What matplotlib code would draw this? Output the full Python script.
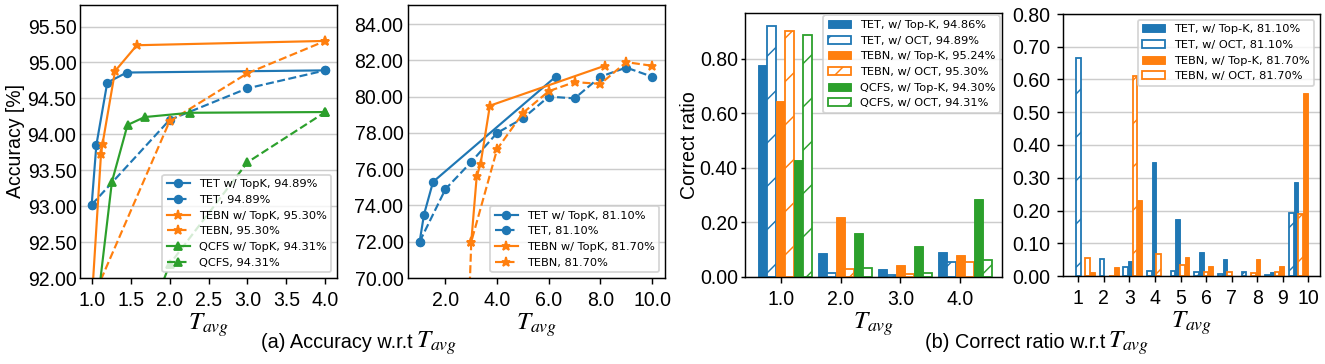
import numpy as np
import matplotlib
matplotlib.use("Agg")
import matplotlib.pyplot as plt
from matplotlib.ticker import FormatStrFormatter

# ---------------- data ----------------
# (a) left: accuracy vs T_avg
tet_topk_x1 = [1.0, 1.06, 1.20, 1.45, 4.0]
tet_topk_y1 = [93.02, 93.85, 94.72, 94.86, 94.89]
tet_x1 = [1.0, 2.0, 3.0, 4.0]
tet_y1 = [93.02, 94.20, 94.64, 94.89]
tebn_topk_x1 = [1.0, 1.12, 1.14, 1.30, 1.58, 4.0]
tebn_topk_y1 = [91.66, 93.73, 93.87, 94.88, 95.24, 95.30]
tebn_x1 = [1.0, 2.0, 3.0, 4.0]
tebn_y1 = [91.68, 94.18, 94.85, 95.30]
qcfs_topk_x1 = [1.0, 1.26, 1.46, 1.68, 2.26, 4.0]
qcfs_topk_y1 = [90.95, 93.34, 94.13, 94.24, 94.30, 94.31]
qcfs_x1 = [1.0, 2.0, 3.0, 4.0]
qcfs_y1 = [89.30, 92.19, 93.61, 94.31]

# (a) right
tet_topk_x2 = [1.0, 1.17, 1.52, 6.27]
tet_topk_y2 = [72.0, 73.5, 75.3, 81.1]
tet_x2 = [1.0, 2.0, 3.0, 4.0, 5.0, 6.0, 7.0, 8.0, 9.0, 10.0]
tet_y2 = [72.0, 74.9, 76.4, 78.0, 78.8, 80.0, 79.9, 81.1, 81.6, 81.1]
tebn_topk_x2 = [3.0, 3.21, 3.36, 3.72, 8.17]
tebn_topk_y2 = [72.0, 75.6, 76.3, 79.5, 81.7]
tebn_x2 = [2.0, 3.0, 4.0, 5.0, 6.0, 7.0, 8.0, 9.0, 10.0]
tebn_y2 = [32.0, 72.0, 77.1, 79.1, 80.3, 80.8, 80.7, 81.9, 81.7]

# (b) left: correct ratio
t3 = [1.0, 2.0, 3.0, 4.0]
tet_topk3 = [0.778, 0.089, 0.031, 0.091]
tet_oct3 = [0.922, 0.016, 0.006, 0.055]
tebn_topk3 = [0.644, 0.219, 0.045, 0.081]
tebn_oct3 = [0.902, 0.031, 0.010, 0.055]
qcfs_topk3 = [0.429, 0.162, 0.113, 0.287]
qcfs_oct3 = [0.888, 0.032, 0.015, 0.064]

# (b) right
t4 = [1, 2, 3, 4, 5, 6, 7, 8, 9, 10]
tet_topk4 = [0.0, 0.0, 0.046, 0.347, 0.175, 0.073, 0.051, 0.0, 0.013, 0.287]
tet_oct4 = [0.667, 0.053, 0.029, 0.016, 0.016, 0.013, 0.006, 0.013, 0.003, 0.192]
tebn_topk4 = [0.013, 0.026, 0.231, 0.0, 0.057, 0.032, 0.0, 0.052, 0.032, 0.558]
tebn_oct4 = [0.056, 0.0, 0.611, 0.066, 0.033, 0.013, 0.013, 0.008, 0.013, 0.190]
t4_labels = ["1", "2", "3", "4", "5", "6", "7", "8", "9", "10"]

# ---------------- style ----------------
plt.rcParams["font.family"] = ["Liberation Sans", "DejaVu Sans"]
plt.rcParams["mathtext.fontset"] = "stix"
plt.rcParams["hatch.linewidth"] = 0.8
C_BLUE, C_ORANGE, C_GREEN = "#1f77b4", "#ff7f0e", "#2ca02c"
TICK_FS = 10.8
LEG_FS = 6.3
W, H = 1325, 364
DPI = 130
fig = plt.figure(figsize=(W / DPI, H / DPI), dpi=DPI)


def px_axes(left, top, right, bottom):
    return fig.add_axes([left / W, 1 - bottom / H, (right - left) / W, (bottom - top) / H])


ax1 = px_axes(80, 5, 337, 278)
ax2 = px_axes(408, 5, 665, 278)
ax3 = px_axes(745, 13, 1002, 277)
ax4 = px_axes(1063, 14, 1320, 276)

leg_prop = {"family": "DejaVu Sans", "size": LEG_FS}


def style(ax):
    ax.set_axisbelow(True)
    ax.yaxis.grid(True, color="#cccccc", lw=0.8)
    ax.tick_params(labelsize=TICK_FS)
    ax.set_xlabel(r"$T_{avg}$", fontsize=14, labelpad=1)


lw = 1.2
ms = 4.2
# ---- panel 1
ax1.plot(tet_topk_x1, tet_topk_y1, "-o", color=C_BLUE, lw=lw, ms=ms, label="TET w/ TopK, 94.89%")
ax1.plot(tet_x1, tet_y1, "--o", color=C_BLUE, lw=lw, ms=ms, label="TET, 94.89%")
ax1.plot(tebn_topk_x1, tebn_topk_y1, "-*", color=C_ORANGE, lw=lw, ms=ms + 1, label="TEBN w/ TopK, 95.30%")
ax1.plot(tebn_x1, tebn_y1, "--*", color=C_ORANGE, lw=lw, ms=ms + 1, label="TEBN, 95.30%")
ax1.plot(qcfs_topk_x1, qcfs_topk_y1, "-^", color=C_GREEN, lw=lw, ms=ms, label="QCFS w/ TopK, 94.31%")
ax1.plot(qcfs_x1, qcfs_y1, "--^", color=C_GREEN, lw=lw, ms=ms, label="QCFS, 94.31%")
ax1.set_ylim(92.0, 95.8)
ax1.set_xlim(0.85, 4.15)
ax1.set_yticks(np.arange(92.0, 95.51, 0.5))
ax1.set_xticks(np.arange(1.0, 4.01, 0.5))
ax1.yaxis.set_major_formatter(FormatStrFormatter("%.2f"))
ax1.xaxis.set_major_formatter(FormatStrFormatter("%.1f"))
ax1.set_ylabel("Accuracy [%]", fontsize=TICK_FS)
style(ax1)
ax1.tick_params(axis="y", length=0, pad=2)
ax1.yaxis.set_label_coords(-0.215, 0.5)
ax1.legend(loc="lower right", prop=leg_prop)

# ---- panel 2
ax2.plot(tet_topk_x2, tet_topk_y2, "-o", color=C_BLUE, lw=lw, ms=ms, label="TET w/ TopK, 81.10%")
ax2.plot(tet_x2, tet_y2, "--o", color=C_BLUE, lw=lw, ms=ms, label="TET, 81.10%")
ax2.plot(tebn_topk_x2, tebn_topk_y2, "-*", color=C_ORANGE, lw=lw, ms=ms + 1, label="TEBN w/ TopK, 81.70%")
ax2.plot(tebn_x2, tebn_y2, "--*", color=C_ORANGE, lw=lw, ms=ms + 1, label="TEBN, 81.70%")
ax2.set_ylim(70.0, 85.05)
ax2.set_xlim(0.55, 10.5)
ax2.set_yticks(np.arange(70, 84.1, 2))
ax2.set_xticks([2, 4, 6, 8, 10])
ax2.yaxis.set_major_formatter(FormatStrFormatter("%.2f"))
ax2.xaxis.set_major_formatter(FormatStrFormatter("%.1f"))
style(ax2)
ax2.tick_params(axis="y", length=0, pad=2.5)
ax2.legend(loc="lower right", prop=leg_prop)

# ---- panel 3
w3 = 0.15
x3 = np.array(t3)
series3 = [
    (tet_topk3, C_BLUE, True, "TET, w/ Top-K, 94.86%"),
    (tet_oct3, C_BLUE, False, "TET, w/ OCT, 94.89%"),
    (tebn_topk3, C_ORANGE, True, "TEBN, w/ Top-K, 95.24%"),
    (tebn_oct3, C_ORANGE, False, "TEBN, w/ OCT, 95.30%"),
    (qcfs_topk3, C_GREEN, True, "QCFS, w/ Top-K, 94.30%"),
    (qcfs_oct3, C_GREEN, False, "QCFS, w/ OCT, 94.31%"),
]
for i, (vals, c, filled, lab) in enumerate(series3):
    pos = x3 + (i - 2) * w3
    if filled:
        ax3.bar(pos, vals, width=w3, color=c, edgecolor=c, lw=0.5, label=lab)
    else:
        ax3.bar(pos, vals, width=w3, facecolor="white", edgecolor=c, hatch="/", lw=1.0, label=lab)
ax3.set_xlim(0.40, 4.70)
ax3.set_xticks(t3)
ax3.xaxis.set_major_formatter(FormatStrFormatter("%.1f"))
ax3.set_yticks(np.arange(0, 0.81, 0.2))
ax3.yaxis.set_major_formatter(FormatStrFormatter("%.2f"))
ax3.set_ylabel("Correct ratio", fontsize=TICK_FS)
style(ax3)
ax3.tick_params(axis="y", length=2, pad=2)
ax3.yaxis.set_label_coords(-0.18, 0.5)
ax3.legend(loc="upper right", prop=leg_prop, borderaxespad=0.2)

# ---- panel 4
w4 = 0.2
x4 = np.array(t4, dtype=float)
order4 = [
    (tet_oct4, C_BLUE, False, "TET, w/ OCT, 81.10%"),
    (tet_topk4, C_BLUE, True, "TET, w/ Top-K, 81.10%"),
    (tebn_oct4, C_ORANGE, False, "TEBN, w/ OCT, 81.70%"),
    (tebn_topk4, C_ORANGE, True, "TEBN, w/ Top-K, 81.70%"),
]
handles = {}
for i, (vals, c, filled, lab) in enumerate(order4):
    pos = x4 + (i - 1.5) * w4
    if filled:
        h = ax4.bar(pos, vals, width=w4, color=c, edgecolor=c, lw=0.5, label=lab)
    else:
        h = ax4.bar(pos, vals, width=w4, facecolor="white", edgecolor=c, hatch="/", lw=1.0, label=lab)
    handles[lab] = h
ax4.set_xlim(0.05, 10.92)
ax4.set_ylim(0, 0.8)
ax4.set_xticks(np.linspace(0.70, 10.43, len(t4_labels)))
ax4.set_xticklabels(t4_labels)
ax4.set_yticks(np.arange(0, 0.81, 0.1))
ax4.yaxis.set_major_formatter(FormatStrFormatter("%.2f"))
style(ax4)
leg_order = ["TET, w/ Top-K, 81.10%", "TET, w/ OCT, 81.10%", "TEBN, w/ Top-K, 81.70%", "TEBN, w/ OCT, 81.70%"]
ax4.legend([handles[k] for k in leg_order], leg_order, loc="upper right", prop=leg_prop)

# captions: plain text part + larger math part, joined at a pixel x
cap_y = 1 - 348 / H
fig.text(413 / W, cap_y, "(a) Accuracy w.r.t", ha="right", va="baseline", fontsize=11)
fig.text(416 / W, cap_y, r"$T_{avg}$", ha="left", va="baseline", fontsize=14)
fig.text(1105 / W, cap_y, "(b) Correct ratio w.r.t", ha="right", va="baseline", fontsize=11)
fig.text(1108 / W, cap_y, r"$T_{avg}$", ha="left", va="baseline", fontsize=14)

fig.savefig("out.png", dpi=DPI)
